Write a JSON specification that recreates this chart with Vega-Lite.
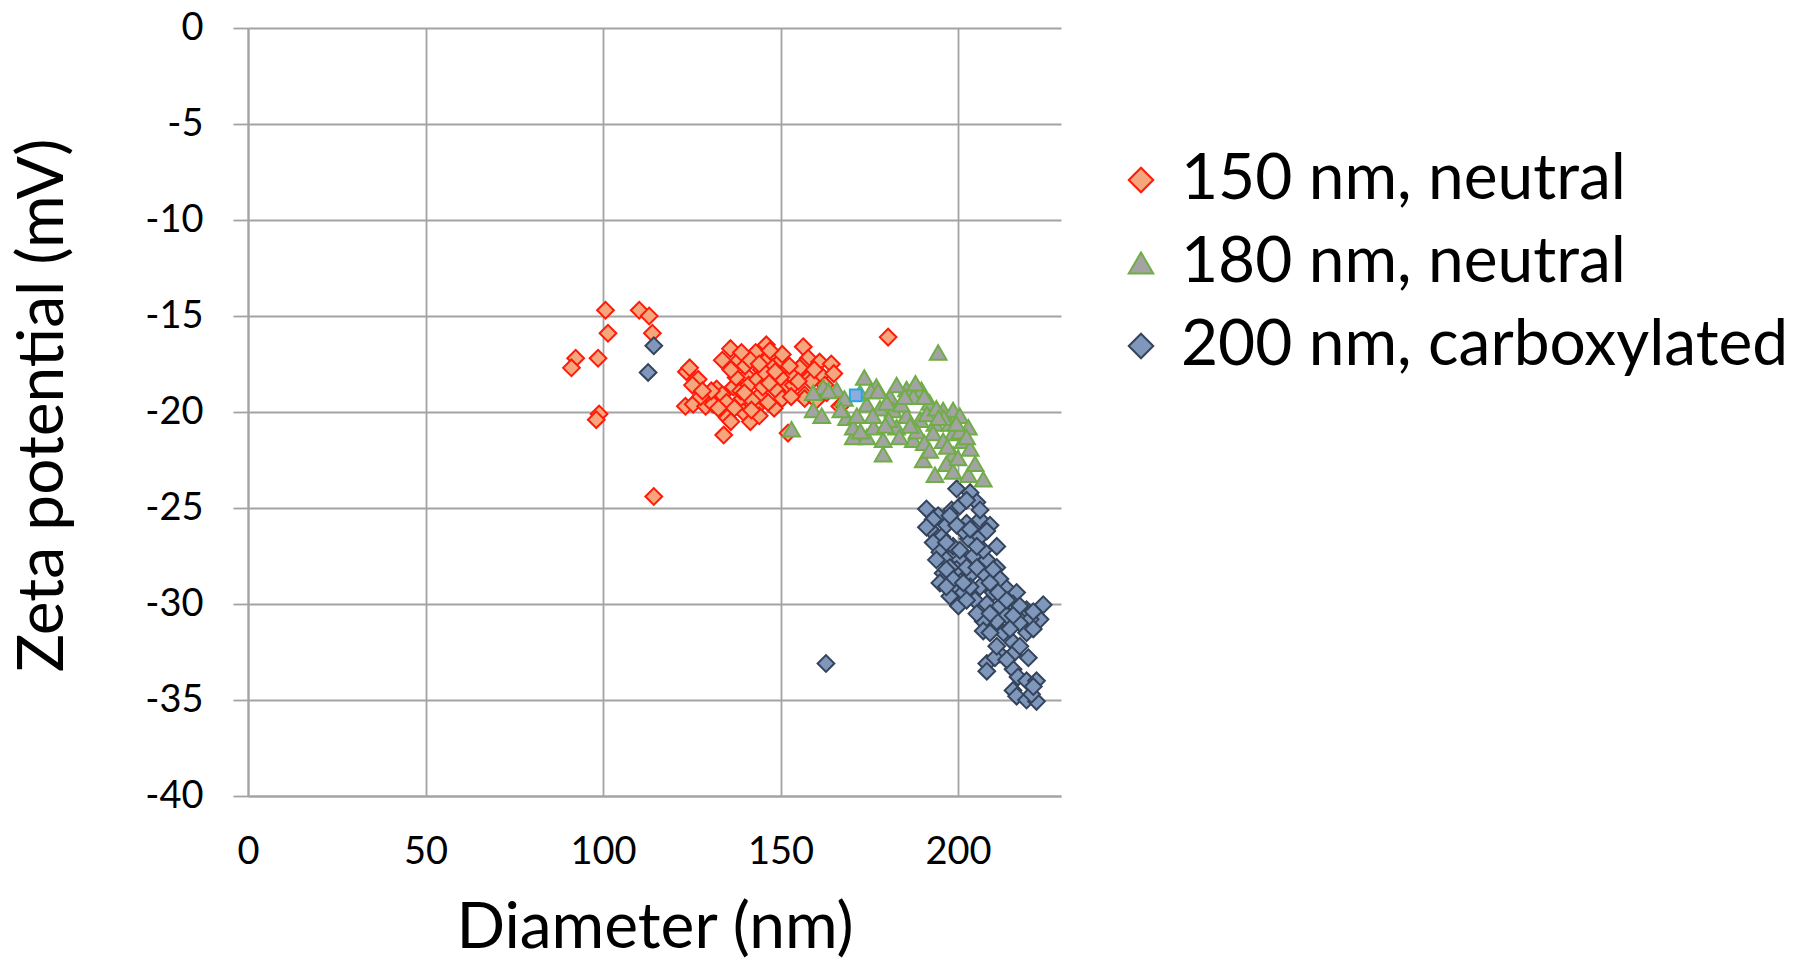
{
  "$schema": "https://vega.github.io/schema/vega-lite/v6.json",
  "width": 813,
  "height": 768,
  "autosize": {"type": "none"},
  "padding": {"left": 248, "top": 28, "right": 735, "bottom": 166},
  "background": "white",
  "config": {
    "font": "Lato",
    "view": {"stroke": null},
    "axis": {
      "grid": true,
      "gridColor": "#A3A3A3",
      "gridWidth": 1.8,
      "domainColor": "#A3A3A3",
      "domainWidth": 2,
      "tickColor": "#A3A3A3",
      "tickWidth": 1.8,
      "labelFont": "Lato",
      "labelFontSize": 38,
      "labelColor": "#000000",
      "titleFont": "Lato",
      "titleFontSize": 64,
      "titleFontWeight": "normal",
      "titleColor": "#000000"
    },
    "legend": {
      "orient": "none",
      "legendX": 861,
      "legendY": 120,
      "labelFont": "Lato",
      "labelFontSize": 64,
      "labelColor": "#000000",
      "labelLimit": 0,
      "symbolSize": 600,
      "symbolStrokeWidth": 2,
      "labelOffset": 8,
      "rowPadding": 19,
      "padding": 0
    }
  },
  "layer": [
    {
      "data": {
        "values": [
          {"s": "150 nm, neutral", "d": 100.7, "z": -14.7},
          {"s": "150 nm, neutral", "d": 110.2, "z": -14.7},
          {"s": "150 nm, neutral", "d": 113.0, "z": -15.0},
          {"s": "150 nm, neutral", "d": 101.4, "z": -15.9},
          {"s": "150 nm, neutral", "d": 113.9, "z": -15.9},
          {"s": "150 nm, neutral", "d": 92.3, "z": -17.2},
          {"s": "150 nm, neutral", "d": 91.1, "z": -17.7},
          {"s": "150 nm, neutral", "d": 98.6, "z": -17.2},
          {"s": "150 nm, neutral", "d": 98.9, "z": -20.1},
          {"s": "150 nm, neutral", "d": 98.1, "z": -20.4},
          {"s": "150 nm, neutral", "d": 114.3, "z": -24.4},
          {"s": "150 nm, neutral", "d": 123.5, "z": -17.9},
          {"s": "150 nm, neutral", "d": 124.4, "z": -17.7},
          {"s": "150 nm, neutral", "d": 126.8, "z": -18.3},
          {"s": "150 nm, neutral", "d": 125.2, "z": -18.6},
          {"s": "150 nm, neutral", "d": 123.2, "z": -19.7},
          {"s": "150 nm, neutral", "d": 125.4, "z": -19.6},
          {"s": "150 nm, neutral", "d": 128.9, "z": -19.7},
          {"s": "150 nm, neutral", "d": 129.6, "z": -19.1},
          {"s": "150 nm, neutral", "d": 132.0, "z": -18.8},
          {"s": "150 nm, neutral", "d": 133.6, "z": -17.3},
          {"s": "150 nm, neutral", "d": 135.9, "z": -16.7},
          {"s": "150 nm, neutral", "d": 133.6, "z": -19.1},
          {"s": "150 nm, neutral", "d": 134.8, "z": -19.5},
          {"s": "150 nm, neutral", "d": 133.6, "z": -20.0},
          {"s": "150 nm, neutral", "d": 135.0, "z": -20.3},
          {"s": "150 nm, neutral", "d": 134.0, "z": -21.2},
          {"s": "150 nm, neutral", "d": 136.7, "z": -18.7},
          {"s": "150 nm, neutral", "d": 138.3, "z": -17.3},
          {"s": "150 nm, neutral", "d": 139.2, "z": -19.3},
          {"s": "150 nm, neutral", "d": 140.4, "z": -18.1},
          {"s": "150 nm, neutral", "d": 141.5, "z": -20.5},
          {"s": "150 nm, neutral", "d": 143.0, "z": -19.8},
          {"s": "150 nm, neutral", "d": 142.3, "z": -17.1},
          {"s": "150 nm, neutral", "d": 144.2, "z": -19.1},
          {"s": "150 nm, neutral", "d": 144.6, "z": -17.8},
          {"s": "150 nm, neutral", "d": 146.0, "z": -16.5},
          {"s": "150 nm, neutral", "d": 146.6, "z": -17.1},
          {"s": "150 nm, neutral", "d": 147.0, "z": -18.1},
          {"s": "150 nm, neutral", "d": 148.4, "z": -18.4},
          {"s": "150 nm, neutral", "d": 148.2, "z": -19.8},
          {"s": "150 nm, neutral", "d": 149.7, "z": -17.4},
          {"s": "150 nm, neutral", "d": 151.3, "z": -17.9},
          {"s": "150 nm, neutral", "d": 151.7, "z": -18.7},
          {"s": "150 nm, neutral", "d": 153.6, "z": -18.6},
          {"s": "150 nm, neutral", "d": 154.0, "z": -18.1},
          {"s": "150 nm, neutral", "d": 156.4, "z": -16.6},
          {"s": "150 nm, neutral", "d": 157.8, "z": -17.2},
          {"s": "150 nm, neutral", "d": 155.9, "z": -17.6},
          {"s": "150 nm, neutral", "d": 158.2, "z": -18.2},
          {"s": "150 nm, neutral", "d": 161.0, "z": -17.4},
          {"s": "150 nm, neutral", "d": 164.3, "z": -17.5},
          {"s": "150 nm, neutral", "d": 161.5, "z": -18.1},
          {"s": "150 nm, neutral", "d": 161.0, "z": -19.1},
          {"s": "150 nm, neutral", "d": 156.8, "z": -19.1},
          {"s": "150 nm, neutral", "d": 152.1, "z": -21.1},
          {"s": "150 nm, neutral", "d": 180.3, "z": -16.1},
          {"s": "150 nm, neutral", "d": 155.4, "z": -17.7},
          {"s": "150 nm, neutral", "d": 158.7, "z": -18.4},
          {"s": "150 nm, neutral", "d": 156.8, "z": -19.3},
          {"s": "150 nm, neutral", "d": 160.0, "z": -19.4},
          {"s": "150 nm, neutral", "d": 166.7, "z": -19.7},
          {"s": "150 nm, neutral", "d": 167.4, "z": -19.6},
          {"s": "150 nm, neutral", "d": 153.1, "z": -18.1},
          {"s": "150 nm, neutral", "d": 137.5, "z": -18.2},
          {"s": "150 nm, neutral", "d": 138.8, "z": -18.9},
          {"s": "150 nm, neutral", "d": 140.0, "z": -17.6},
          {"s": "150 nm, neutral", "d": 141.0, "z": -18.6},
          {"s": "150 nm, neutral", "d": 142.0, "z": -19.4},
          {"s": "150 nm, neutral", "d": 143.5, "z": -18.3},
          {"s": "150 nm, neutral", "d": 145.0, "z": -18.7},
          {"s": "150 nm, neutral", "d": 145.5, "z": -17.4},
          {"s": "150 nm, neutral", "d": 146.5, "z": -19.5},
          {"s": "150 nm, neutral", "d": 147.8, "z": -17.7},
          {"s": "150 nm, neutral", "d": 149.0, "z": -18.9},
          {"s": "150 nm, neutral", "d": 150.0, "z": -18.2},
          {"s": "150 nm, neutral", "d": 150.5, "z": -17.0},
          {"s": "150 nm, neutral", "d": 152.5, "z": -17.6},
          {"s": "150 nm, neutral", "d": 139.5, "z": -20.0},
          {"s": "150 nm, neutral", "d": 137.0, "z": -19.8},
          {"s": "150 nm, neutral", "d": 131.0, "z": -19.6},
          {"s": "150 nm, neutral", "d": 130.5, "z": -18.9},
          {"s": "150 nm, neutral", "d": 127.5, "z": -19.2},
          {"s": "150 nm, neutral", "d": 144.0, "z": -20.2},
          {"s": "150 nm, neutral", "d": 145.8, "z": -18.0},
          {"s": "150 nm, neutral", "d": 143.0, "z": -16.9},
          {"s": "150 nm, neutral", "d": 159.5, "z": -17.8},
          {"s": "150 nm, neutral", "d": 162.5, "z": -18.6},
          {"s": "150 nm, neutral", "d": 163.0, "z": -19.0},
          {"s": "150 nm, neutral", "d": 165.0, "z": -18.0},
          {"s": "150 nm, neutral", "d": 136.0, "z": -17.8},
          {"s": "150 nm, neutral", "d": 139.0, "z": -16.9},
          {"s": "150 nm, neutral", "d": 141.5, "z": -17.3},
          {"s": "150 nm, neutral", "d": 144.0, "z": -17.5},
          {"s": "150 nm, neutral", "d": 147.0, "z": -16.8},
          {"s": "150 nm, neutral", "d": 148.5, "z": -17.9},
          {"s": "150 nm, neutral", "d": 141.8, "z": -19.9},
          {"s": "150 nm, neutral", "d": 139.8, "z": -19.0},
          {"s": "150 nm, neutral", "d": 146.8, "z": -18.5},
          {"s": "150 nm, neutral", "d": 150.5, "z": -19.3},
          {"s": "150 nm, neutral", "d": 153.0, "z": -19.2},
          {"s": "150 nm, neutral", "d": 155.0, "z": -18.4},
          {"s": "150 nm, neutral", "d": 132.5, "z": -19.8},
          {"s": "150 nm, neutral", "d": 128.0, "z": -18.9},
          {"s": "150 nm, neutral", "d": 136.0, "z": -20.5},
          {"s": "200 nm, carboxylated", "d": 114.3, "z": -16.55},
          {"s": "200 nm, carboxylated", "d": 112.7, "z": -17.94},
          {"s": "200 nm, carboxylated", "d": 162.8, "z": -33.1},
          {"s": "200 nm, carboxylated", "d": 199.6, "z": -24.0},
          {"s": "200 nm, carboxylated", "d": 203.4, "z": -24.2},
          {"s": "200 nm, carboxylated", "d": 205.3, "z": -24.7},
          {"s": "200 nm, carboxylated", "d": 191.1, "z": -25.05},
          {"s": "200 nm, carboxylated", "d": 194.4, "z": -25.4},
          {"s": "200 nm, carboxylated", "d": 198.2, "z": -25.1},
          {"s": "200 nm, carboxylated", "d": 202.4, "z": -25.8},
          {"s": "200 nm, carboxylated", "d": 206.2, "z": -25.6},
          {"s": "200 nm, carboxylated", "d": 209.0, "z": -25.9},
          {"s": "200 nm, carboxylated", "d": 192.1, "z": -26.1},
          {"s": "200 nm, carboxylated", "d": 195.4, "z": -26.5},
          {"s": "200 nm, carboxylated", "d": 198.6, "z": -27.0},
          {"s": "200 nm, carboxylated", "d": 202.9, "z": -26.6},
          {"s": "200 nm, carboxylated", "d": 206.2, "z": -26.5},
          {"s": "200 nm, carboxylated", "d": 210.9, "z": -27.0},
          {"s": "200 nm, carboxylated", "d": 193.0, "z": -26.8},
          {"s": "200 nm, carboxylated", "d": 194.9, "z": -27.3},
          {"s": "200 nm, carboxylated", "d": 196.7, "z": -27.7},
          {"s": "200 nm, carboxylated", "d": 200.5, "z": -27.7},
          {"s": "200 nm, carboxylated", "d": 204.3, "z": -27.5},
          {"s": "200 nm, carboxylated", "d": 208.1, "z": -27.7},
          {"s": "200 nm, carboxylated", "d": 210.9, "z": -28.1},
          {"s": "200 nm, carboxylated", "d": 195.8, "z": -28.4},
          {"s": "200 nm, carboxylated", "d": 199.6, "z": -28.2},
          {"s": "200 nm, carboxylated", "d": 203.4, "z": -28.5},
          {"s": "200 nm, carboxylated", "d": 207.1, "z": -28.4},
          {"s": "200 nm, carboxylated", "d": 211.8, "z": -28.7},
          {"s": "200 nm, carboxylated", "d": 194.9, "z": -28.9},
          {"s": "200 nm, carboxylated", "d": 198.2, "z": -29.2},
          {"s": "200 nm, carboxylated", "d": 201.5, "z": -29.4},
          {"s": "200 nm, carboxylated", "d": 206.2, "z": -29.1},
          {"s": "200 nm, carboxylated", "d": 209.9, "z": -29.4},
          {"s": "200 nm, carboxylated", "d": 213.7, "z": -29.2},
          {"s": "200 nm, carboxylated", "d": 216.5, "z": -29.4},
          {"s": "200 nm, carboxylated", "d": 197.7, "z": -29.6},
          {"s": "200 nm, carboxylated", "d": 200.1, "z": -30.1},
          {"s": "200 nm, carboxylated", "d": 204.8, "z": -29.8},
          {"s": "200 nm, carboxylated", "d": 208.1, "z": -30.0},
          {"s": "200 nm, carboxylated", "d": 211.8, "z": -30.1},
          {"s": "200 nm, carboxylated", "d": 215.5, "z": -30.0},
          {"s": "200 nm, carboxylated", "d": 219.3, "z": -30.3},
          {"s": "200 nm, carboxylated", "d": 224.0, "z": -30.04},
          {"s": "200 nm, carboxylated", "d": 223.1, "z": -30.8},
          {"s": "200 nm, carboxylated", "d": 220.3, "z": -30.8},
          {"s": "200 nm, carboxylated", "d": 217.4, "z": -31.0},
          {"s": "200 nm, carboxylated", "d": 213.7, "z": -30.6},
          {"s": "200 nm, carboxylated", "d": 210.9, "z": -30.9},
          {"s": "200 nm, carboxylated", "d": 207.1, "z": -30.9},
          {"s": "200 nm, carboxylated", "d": 207.1, "z": -31.4},
          {"s": "200 nm, carboxylated", "d": 212.8, "z": -31.5},
          {"s": "200 nm, carboxylated", "d": 215.5, "z": -32.0},
          {"s": "200 nm, carboxylated", "d": 219.3, "z": -31.5},
          {"s": "200 nm, carboxylated", "d": 221.2, "z": -31.3},
          {"s": "200 nm, carboxylated", "d": 211.8, "z": -32.6},
          {"s": "200 nm, carboxylated", "d": 208.1, "z": -33.1},
          {"s": "200 nm, carboxylated", "d": 208.1, "z": -33.5},
          {"s": "200 nm, carboxylated", "d": 210.4, "z": -32.8},
          {"s": "200 nm, carboxylated", "d": 215.5, "z": -32.6},
          {"s": "200 nm, carboxylated", "d": 219.8, "z": -32.8},
          {"s": "200 nm, carboxylated", "d": 215.5, "z": -33.4},
          {"s": "200 nm, carboxylated", "d": 216.9, "z": -33.8},
          {"s": "200 nm, carboxylated", "d": 219.3, "z": -34.0},
          {"s": "200 nm, carboxylated", "d": 222.1, "z": -34.0},
          {"s": "200 nm, carboxylated", "d": 215.5, "z": -34.5},
          {"s": "200 nm, carboxylated", "d": 216.5, "z": -34.8},
          {"s": "200 nm, carboxylated", "d": 219.3, "z": -35.0},
          {"s": "200 nm, carboxylated", "d": 222.1, "z": -35.07},
          {"s": "200 nm, carboxylated", "d": 220.7, "z": -34.7},
          {"s": "200 nm, carboxylated", "d": 202.4, "z": -29.8},
          {"s": "200 nm, carboxylated", "d": 205.3, "z": -30.5},
          {"s": "200 nm, carboxylated", "d": 200.5, "z": -24.9},
          {"s": "200 nm, carboxylated", "d": 196.7, "z": -25.9},
          {"s": "200 nm, carboxylated", "d": 201.5, "z": -26.2},
          {"s": "200 nm, carboxylated", "d": 207.1, "z": -27.2},
          {"s": "200 nm, carboxylated", "d": 197.7, "z": -28.1},
          {"s": "200 nm, carboxylated", "d": 209.0, "z": -28.9},
          {"s": "200 nm, carboxylated", "d": 203.4, "z": -29.1},
          {"s": "200 nm, carboxylated", "d": 193.0, "z": -25.6},
          {"s": "200 nm, carboxylated", "d": 199.6, "z": -25.9},
          {"s": "200 nm, carboxylated", "d": 203.4, "z": -26.1},
          {"s": "200 nm, carboxylated", "d": 208.1, "z": -26.2},
          {"s": "200 nm, carboxylated", "d": 191.1, "z": -26.0},
          {"s": "200 nm, carboxylated", "d": 196.7, "z": -26.8},
          {"s": "200 nm, carboxylated", "d": 200.5, "z": -27.2},
          {"s": "200 nm, carboxylated", "d": 205.3, "z": -27.0},
          {"s": "200 nm, carboxylated", "d": 193.9, "z": -27.7},
          {"s": "200 nm, carboxylated", "d": 202.4, "z": -28.1},
          {"s": "200 nm, carboxylated", "d": 205.3, "z": -28.1},
          {"s": "200 nm, carboxylated", "d": 209.9, "z": -28.2},
          {"s": "200 nm, carboxylated", "d": 198.6, "z": -28.7},
          {"s": "200 nm, carboxylated", "d": 201.5, "z": -28.9},
          {"s": "200 nm, carboxylated", "d": 196.7, "z": -29.1},
          {"s": "200 nm, carboxylated", "d": 211.3, "z": -29.4},
          {"s": "200 nm, carboxylated", "d": 213.7, "z": -29.8},
          {"s": "200 nm, carboxylated", "d": 217.4, "z": -30.1},
          {"s": "200 nm, carboxylated", "d": 209.0, "z": -30.5},
          {"s": "200 nm, carboxylated", "d": 215.5, "z": -30.6},
          {"s": "200 nm, carboxylated", "d": 221.2, "z": -30.4},
          {"s": "200 nm, carboxylated", "d": 209.0, "z": -31.5},
          {"s": "200 nm, carboxylated", "d": 214.6, "z": -31.3},
          {"s": "200 nm, carboxylated", "d": 217.4, "z": -32.2},
          {"s": "200 nm, carboxylated", "d": 213.7, "z": -32.9},
          {"s": "200 nm, carboxylated", "d": 210.9, "z": -32.2},
          {"s": "200 nm, carboxylated", "d": 221.2, "z": -34.3},
          {"s": "200 nm, carboxylated", "d": 196.7, "z": -28.2},
          {"s": "200 nm, carboxylated", "d": 202.4, "z": -24.6},
          {"s": "200 nm, carboxylated", "d": 206.2, "z": -25.1},
          {"s": "200 nm, carboxylated", "d": 197.7, "z": -25.4},
          {"s": "180 nm, neutral", "d": 194.4, "z": -16.9},
          {"s": "180 nm, neutral", "d": 173.6, "z": -18.2},
          {"s": "180 nm, neutral", "d": 162.0, "z": -18.7},
          {"s": "180 nm, neutral", "d": 165.8, "z": -18.84},
          {"s": "180 nm, neutral", "d": 159.2, "z": -19.0},
          {"s": "180 nm, neutral", "d": 159.2, "z": -19.9},
          {"s": "180 nm, neutral", "d": 161.6, "z": -20.2},
          {"s": "180 nm, neutral", "d": 153.1, "z": -20.9},
          {"s": "180 nm, neutral", "d": 168.6, "z": -20.3},
          {"s": "180 nm, neutral", "d": 170.5, "z": -21.3},
          {"s": "180 nm, neutral", "d": 174.3, "z": -21.3},
          {"s": "180 nm, neutral", "d": 178.9, "z": -21.44},
          {"s": "180 nm, neutral", "d": 178.9, "z": -22.2},
          {"s": "180 nm, neutral", "d": 177.0, "z": -18.67},
          {"s": "180 nm, neutral", "d": 180.8, "z": -19.2},
          {"s": "180 nm, neutral", "d": 185.5, "z": -18.8},
          {"s": "180 nm, neutral", "d": 189.7, "z": -18.84},
          {"s": "180 nm, neutral", "d": 182.7, "z": -18.6},
          {"s": "180 nm, neutral", "d": 187.4, "z": -21.44},
          {"s": "180 nm, neutral", "d": 190.2, "z": -22.5},
          {"s": "180 nm, neutral", "d": 193.5, "z": -23.27},
          {"s": "180 nm, neutral", "d": 195.8, "z": -19.9},
          {"s": "180 nm, neutral", "d": 198.6, "z": -19.9},
          {"s": "180 nm, neutral", "d": 200.5, "z": -20.2},
          {"s": "180 nm, neutral", "d": 202.9, "z": -20.8},
          {"s": "180 nm, neutral", "d": 198.6, "z": -21.1},
          {"s": "180 nm, neutral", "d": 201.4, "z": -21.5},
          {"s": "180 nm, neutral", "d": 203.4, "z": -21.9},
          {"s": "180 nm, neutral", "d": 198.6, "z": -22.2},
          {"s": "180 nm, neutral", "d": 196.7, "z": -22.7},
          {"s": "180 nm, neutral", "d": 198.6, "z": -23.1},
          {"s": "180 nm, neutral", "d": 202.9, "z": -23.27},
          {"s": "180 nm, neutral", "d": 204.8, "z": -22.7},
          {"s": "180 nm, neutral", "d": 207.1, "z": -23.5},
          {"s": "180 nm, neutral", "d": 192.0, "z": -19.5},
          {"s": "180 nm, neutral", "d": 193.5, "z": -20.6},
          {"s": "180 nm, neutral", "d": 189.3, "z": -20.4},
          {"s": "180 nm, neutral", "d": 185.5, "z": -20.2},
          {"s": "180 nm, neutral", "d": 181.7, "z": -19.9},
          {"s": "180 nm, neutral", "d": 178.0, "z": -19.8},
          {"s": "180 nm, neutral", "d": 174.3, "z": -19.6},
          {"s": "180 nm, neutral", "d": 170.5, "z": -20.8},
          {"s": "180 nm, neutral", "d": 176.2, "z": -20.8},
          {"s": "180 nm, neutral", "d": 182.7, "z": -20.8},
          {"s": "180 nm, neutral", "d": 188.4, "z": -21.0},
          {"s": "180 nm, neutral", "d": 193.0, "z": -21.1},
          {"s": "180 nm, neutral", "d": 195.8, "z": -21.5},
          {"s": "180 nm, neutral", "d": 172.4, "z": -19.0},
          {"s": "180 nm, neutral", "d": 179.9, "z": -19.5},
          {"s": "180 nm, neutral", "d": 187.4, "z": -19.2},
          {"s": "180 nm, neutral", "d": 191.2, "z": -20.1},
          {"s": "180 nm, neutral", "d": 193.9, "z": -19.8},
          {"s": "180 nm, neutral", "d": 197.7, "z": -20.6},
          {"s": "180 nm, neutral", "d": 200.5, "z": -21.0},
          {"s": "180 nm, neutral", "d": 202.4, "z": -21.3},
          {"s": "180 nm, neutral", "d": 175.5, "z": -18.9},
          {"s": "180 nm, neutral", "d": 184.0, "z": -19.6},
          {"s": "180 nm, neutral", "d": 176.0, "z": -20.2},
          {"s": "180 nm, neutral", "d": 183.5, "z": -21.3},
          {"s": "180 nm, neutral", "d": 190.5, "z": -21.6},
          {"s": "180 nm, neutral", "d": 168.0, "z": -19.3},
          {"s": "180 nm, neutral", "d": 171.5, "z": -20.2},
          {"s": "180 nm, neutral", "d": 196.0, "z": -20.3},
          {"s": "180 nm, neutral", "d": 186.5, "z": -20.7},
          {"s": "180 nm, neutral", "d": 180.5, "z": -20.4},
          {"s": "180 nm, neutral", "d": 185.0, "z": -19.2},
          {"s": "180 nm, neutral", "d": 188.0, "z": -18.5},
          {"s": "180 nm, neutral", "d": 177.5, "z": -18.9},
          {"s": "180 nm, neutral", "d": 190.5, "z": -19.2},
          {"s": "180 nm, neutral", "d": 194.5, "z": -20.3},
          {"s": "180 nm, neutral", "d": 199.5, "z": -20.6},
          {"s": "180 nm, neutral", "d": 197.0, "z": -21.8},
          {"s": "180 nm, neutral", "d": 200.0, "z": -22.4},
          {"s": "180 nm, neutral", "d": 192.0, "z": -22.0},
          {"s": "180 nm, neutral", "d": 179.5, "z": -20.7},
          {"s": "180 nm, neutral", "d": 172.5, "z": -21.0},
          {"s": "180 nm, neutral", "d": 167.0, "z": -19.9},
          {"s": "180 nm, neutral", "d": 163.5, "z": -18.9}
        ]
      },
      "mark": {"type": "point", "filled": true, "size": 280, "strokeWidth": 2, "opacity": 1},
      "encoding": {
        "x": {
          "field": "d",
          "type": "quantitative",
          "scale": {"domain": [0, 229], "nice": false, "zero": false},
          "axis": {
            "title": "Diameter (nm)",
            "values": [0, 50, 100, 150, 200],
            "ticks": false,
            "labelFlush": false,
            "labelDx": -4,
            "labelPadding": 37,
            "titleY": 151,
            "titleBaseline": "alphabetic"
          }
        },
        "y": {
          "field": "z",
          "type": "quantitative",
          "scale": {"domain": [-40, 0], "nice": false, "zero": false},
          "axis": {
            "title": "Zeta potential (mV)",
            "values": [-40, -35, -30, -25, -20, -15, -10, -5, 0],
            "ticks": true,
            "tickSize": 15,
            "labelPadding": 30,
            "labelFlush": false,
            "labelExpr": "'' + datum.value",
            "titleX": -205,
            "titleY": 377,
            "titleAngle": -90,
            "titleAlign": "center",
            "titleBaseline": "middle"
          }
        },
        "color": {
          "field": "s",
          "type": "nominal",
          "scale": {
            "domain": ["150 nm, neutral", "180 nm, neutral", "200 nm, carboxylated"],
            "range": ["#F5A67C", "#A3A3A3", "#7F97BA"]
          },
          "legend": {"title": null, "symbolSize": 600, "encode": {"symbols": {"enter": {"size": {"value": 600}}, "update": {"size": {"value": 600}}}}}
        },
        "stroke": {
          "field": "s",
          "type": "nominal",
          "scale": {
            "domain": ["150 nm, neutral", "180 nm, neutral", "200 nm, carboxylated"],
            "range": ["#FF1A0A", "#70AD47", "#34445C"]
          },
          "legend": {"title": null, "symbolSize": 600, "encode": {"symbols": {"enter": {"size": {"value": 600}}, "update": {"size": {"value": 600}}}}}
        },
        "shape": {
          "field": "s",
          "type": "nominal",
          "scale": {
            "domain": ["150 nm, neutral", "180 nm, neutral", "200 nm, carboxylated"],
            "range": ["diamond", "triangle-up", "diamond"]
          },
          "legend": {"title": null, "symbolSize": 600, "encode": {"symbols": {"enter": {"size": {"value": 600}}, "update": {"size": {"value": 600}}}}}
        }
      }
    },
    {
      "data": {"values": [{"d": 171.2, "z": -19.13}]},
      "mark": {"type": "square", "filled": true, "size": 140, "fill": "#8FAADC", "stroke": "#25A8E0", "strokeWidth": 2, "opacity": 1},
      "encoding": {
        "x": {"field": "d", "type": "quantitative"},
        "y": {"field": "z", "type": "quantitative"}
      }
    }
  ]
}
